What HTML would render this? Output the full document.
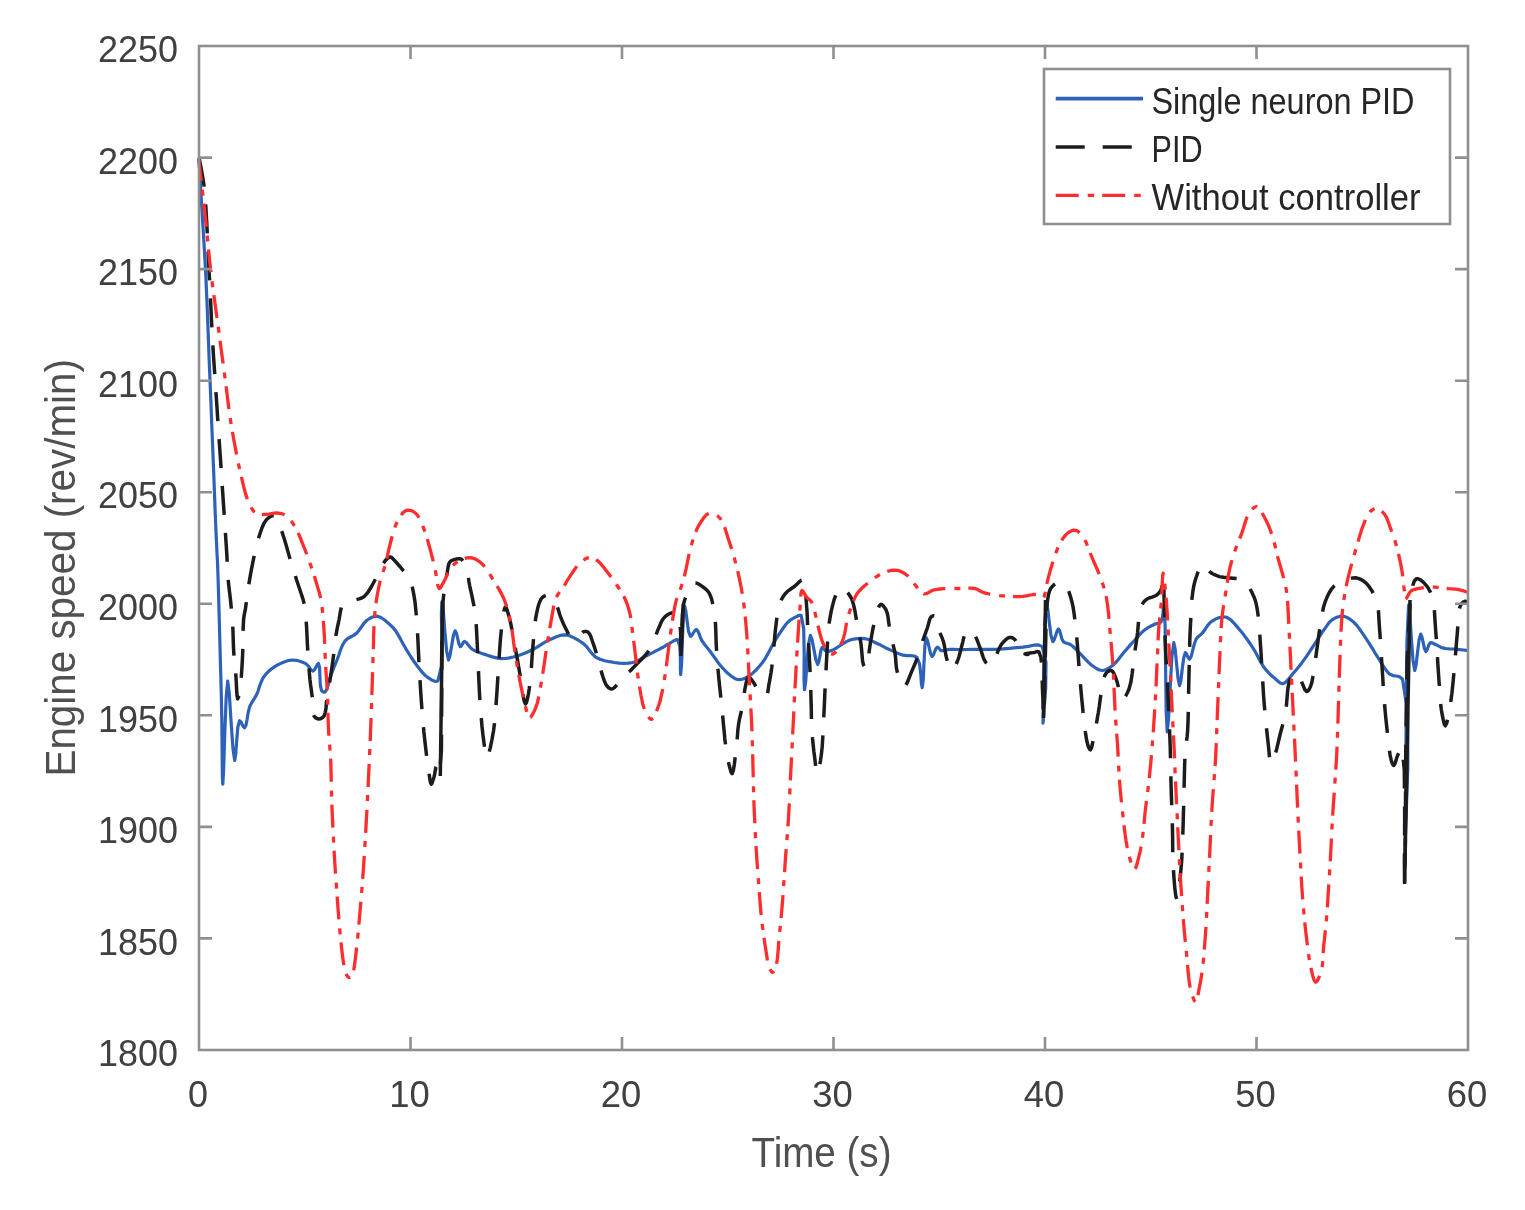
<!DOCTYPE html><html><head><meta charset="utf-8"><title>Engine speed</title><style>html,body{margin:0;padding:0;background:#fff;}svg{display:block;}text{font-family:"Liberation Sans",Arial,sans-serif;}</style></head><body>
<svg width="1525" height="1210" viewBox="0 0 1525 1210">
<rect x="0" y="0" width="1525" height="1210" fill="#fff"/>
<g>
<defs><clipPath id="c"><rect x="197" y="44" width="1273" height="1008"/></clipPath></defs>
<g clip-path="url(#c)" fill="none" stroke-linejoin="round">
<path d="M199.0 158.0L199.1 160.6 199.5 167.1 199.9 175.7 200.4 184.7 201.5 202.9 202.9 225.0 204.3 248.6 205.6 271.5 206.6 293.2 207.5 314.9 208.3 336.6 209.1 358.3 210.0 380.0 210.9 401.6 211.7 423.3 212.6 445.0 213.5 467.6 214.4 490.7 215.2 512.7 216.0 532.0 216.5 542.3 216.9 551.3 217.4 560.1 217.8 570.0 218.3 585.8 218.8 603.1 219.3 621.2 219.8 639.4 220.3 659.0 220.9 679.2 221.4 699.3 221.8 718.7 222.0 738.6 222.2 760.0 222.4 777.2 222.8 784.2 223.7 768.1 224.8 732.6 226.2 697.1 227.7 681.0 229.3 693.4 231.0 720.7 232.9 748.0 234.7 760.4 235.7 754.3 236.7 740.8 237.8 727.2 239.6 720.7 240.8 721.7 242.1 724.2 243.4 726.7 244.6 727.7 246.0 725.1 247.1 719.3 248.2 712.5 249.6 706.8 251.2 703.6 253.0 700.7 254.8 697.9 256.5 694.9 258.1 691.0 259.4 686.7 260.9 682.6 262.5 679.0 263.9 676.7 265.5 674.7 267.1 672.8 269.0 671.0 271.4 669.0 274.0 667.1 276.8 665.4 279.7 663.9 282.8 662.5 286.2 661.2 289.5 660.3 292.9 660.0 296.3 660.3 299.8 661.2 303.2 662.4 306.1 663.9 308.1 665.8 309.9 668.2 311.5 670.2 313.0 671.0 314.5 669.7 316.0 667.1 317.3 664.5 318.5 663.5 319.6 667.5 319.9 676.0 320.3 684.9 321.5 690.5 322.3 691.3 323.2 691.9 324.1 692.1 325.0 692.0 326.6 689.7 328.1 685.2 329.5 679.8 331.0 675.0 332.5 671.2 333.9 667.5 335.4 663.8 337.0 660.0 338.8 655.2 340.5 650.0 342.5 645.1 345.0 641.0 347.6 638.7 350.5 637.0 353.6 635.4 356.4 633.4 359.1 630.2 361.7 626.5 364.2 623.0 367.0 620.2 369.5 618.5 372.1 617.2 374.8 616.3 377.5 616.2 380.9 617.5 384.6 620.0 388.0 622.9 390.8 625.5 392.2 626.8 393.3 627.9 394.4 629.2 395.6 630.8 398.0 634.6 400.7 639.4 403.4 644.5 406.2 649.3 408.8 653.5 411.3 657.5 414.0 661.5 416.7 665.2 419.2 668.5 421.8 671.8 424.5 674.7 427.3 677.1 430.0 678.9 432.8 680.6 435.6 681.5 437.9 681.0 441.3 666.6 441.8 639.6 441.4 613.5 441.9 601.7 443.3 610.8 444.8 630.7 446.6 650.7 448.5 659.9 450.0 655.4 451.7 645.4 453.4 635.4 455.1 630.8 456.4 633.2 457.7 638.6 459.0 644.1 460.4 646.7 461.3 646.0 462.3 644.2 463.3 642.3 464.4 641.4 466.1 642.3 467.9 644.5 470.0 647.1 472.3 649.3 475.2 650.9 478.5 652.3 482.0 653.5 485.5 654.6 489.3 655.9 493.3 657.1 497.4 658.1 501.4 658.6 505.4 658.5 509.4 657.9 513.4 657.0 517.3 655.9 521.3 654.6 525.3 653.0 529.2 651.2 533.1 649.3 537.1 647.1 541.0 644.6 545.0 642.1 549.0 640.0 553.0 638.2 557.1 636.5 561.1 635.2 564.9 634.8 567.7 635.2 570.4 636.1 573.0 637.4 575.5 638.7 578.0 640.0 580.3 641.5 582.7 643.1 585.0 645.0 587.6 647.9 590.1 651.2 592.8 654.5 595.9 657.2 600.0 659.2 604.7 660.7 609.6 661.7 614.4 662.5 619.1 663.1 623.8 663.3 628.4 663.2 632.9 662.5 637.1 661.1 641.1 659.0 645.0 656.7 648.8 654.6 652.2 652.9 655.5 651.2 658.6 649.6 661.6 648.0 663.8 646.8 665.8 645.5 667.7 644.4 669.7 643.3 671.8 642.0 674.0 640.7 676.1 639.7 677.8 639.9 679.8 646.3 680.4 658.1 680.4 669.5 680.7 674.6 681.6 663.9 682.4 640.5 683.3 617.0 684.7 606.3 685.8 610.9 687.1 621.0 688.5 631.4 690.5 636.4 691.8 635.5 693.3 633.0 694.9 630.5 696.3 629.4 697.8 630.8 699.1 633.9 700.5 637.7 702.1 641.0 704.0 643.7 706.0 646.2 708.1 648.7 710.2 651.4 712.6 654.8 715.1 658.3 717.6 661.9 720.2 665.2 722.8 668.2 725.4 671.0 728.1 673.6 730.8 675.8 732.8 677.2 734.7 678.4 736.6 679.3 738.7 679.7 741.2 679.5 743.9 678.7 746.6 677.4 749.3 675.8 752.7 673.2 756.1 670.0 759.4 666.3 762.5 662.5 765.5 658.1 768.2 653.2 770.7 648.4 773.1 644.0 774.9 641.0 776.6 638.2 778.2 635.5 780.0 632.8 781.9 630.0 783.8 627.2 785.8 624.5 787.9 622.2 789.8 620.5 791.9 619.1 794.0 617.9 795.9 616.9 797.3 616.2 798.7 615.5 800.0 615.2 801.2 615.6 803.7 628.9 804.2 654.1 804.0 678.7 804.5 689.7 805.7 681.3 807.0 662.6 808.5 644.0 810.4 635.4 812.1 639.9 814.0 649.9 815.9 659.9 817.7 664.5 818.8 661.9 819.9 656.1 820.9 650.2 822.3 647.3 823.2 647.7 824.1 649.0 825.1 650.4 826.3 651.3 827.8 651.4 829.5 651.2 831.2 650.6 832.9 650.0 834.5 649.2 836.1 648.2 837.7 647.1 839.5 646.0 841.9 644.5 844.4 642.8 847.1 641.2 850.0 640.0 853.6 639.1 857.5 638.6 861.4 638.4 865.0 638.7 867.8 639.3 870.3 640.3 872.9 641.5 875.5 642.7 878.7 644.2 882.0 645.9 885.4 647.7 888.8 649.3 892.3 650.9 895.9 652.5 899.5 654.0 903.1 655.2 906.8 655.7 910.6 655.6 914.1 656.0 917.0 657.5 919.6 664.2 920.8 674.3 921.4 683.6 922.2 687.6 923.3 679.8 924.0 662.8 924.9 645.8 926.3 637.9 927.5 640.7 929.0 647.0 930.5 653.4 932.1 656.4 933.3 655.1 934.6 651.9 935.9 648.7 937.3 647.1 938.2 647.5 939.1 648.6 940.1 649.8 941.3 650.6 943.1 650.7 945.1 650.3 947.2 649.8 949.4 649.4 951.9 649.3 954.6 649.4 957.3 649.5 960.2 649.6 963.7 649.6 967.3 649.5 971.1 649.4 975.0 649.3 980.0 649.3 985.4 649.4 990.9 649.4 996.5 649.3 1003.0 648.9 1009.8 648.3 1016.5 647.7 1022.9 647.2 1028.3 646.4 1033.6 645.2 1038.4 644.9 1042.3 646.6 1046.0 662.1 1045.7 688.0 1043.9 712.4 1043.0 723.2 1043.4 704.6 1043.9 663.5 1044.9 622.5 1046.5 603.7 1047.8 609.5 1049.3 622.5 1051.0 635.6 1052.9 641.7 1054.2 639.8 1055.7 635.4 1057.1 631.0 1058.5 629.0 1059.6 630.6 1060.7 634.4 1061.8 638.7 1063.4 641.7 1064.9 642.7 1066.7 643.2 1068.5 643.7 1070.4 644.5 1073.0 646.5 1075.7 649.1 1078.4 651.9 1081.1 654.6 1083.7 657.3 1086.3 660.2 1089.0 662.9 1091.7 665.2 1094.3 667.0 1096.9 668.8 1099.6 670.0 1102.3 670.5 1105.0 670.0 1107.7 668.8 1110.4 667.1 1112.9 665.2 1115.7 662.6 1118.3 659.5 1120.8 656.2 1123.4 653.0 1126.0 650.0 1128.7 646.9 1131.3 643.9 1134.0 641.0 1136.6 638.1 1139.2 635.2 1141.8 632.4 1144.6 630.0 1147.2 628.2 1150.0 626.5 1152.7 625.2 1155.2 624.0 1156.8 623.5 1158.4 623.3 1159.8 622.9 1161.0 622.0 1162.4 618.1 1163.1 612.2 1163.4 606.9 1163.9 604.6 1165.1 624.5 1165.6 668.3 1166.2 712.0 1167.2 731.9 1168.6 718.0 1170.2 687.3 1171.9 656.6 1173.8 642.6 1175.2 649.3 1176.6 664.1 1178.1 678.9 1179.6 685.6 1180.9 680.5 1182.2 669.3 1183.7 658.0 1185.4 652.6 1186.4 653.6 1187.4 655.9 1188.5 658.2 1189.5 659.2 1191.1 656.6 1192.6 650.9 1194.2 644.3 1196.1 639.3 1197.6 637.3 1199.3 635.8 1201.0 634.4 1202.7 632.7 1204.5 630.3 1206.2 627.6 1208.0 625.0 1210.0 622.8 1212.2 621.1 1214.6 619.6 1217.0 618.4 1219.4 617.6 1221.4 617.2 1223.3 616.9 1225.3 617.0 1227.3 617.6 1230.5 619.7 1233.9 623.0 1237.2 626.9 1240.5 630.8 1244.0 635.1 1247.4 639.8 1250.7 644.5 1253.8 649.3 1256.5 654.0 1259.0 658.9 1261.6 663.6 1264.3 667.8 1266.9 670.9 1269.5 673.7 1272.3 676.2 1274.9 678.4 1276.9 680.2 1278.9 682.0 1280.9 683.3 1282.9 683.7 1285.5 682.4 1288.1 679.7 1290.8 676.3 1293.4 673.1 1296.1 670.0 1298.8 666.7 1301.4 663.4 1304.0 659.9 1306.7 656.1 1309.3 652.1 1312.0 648.0 1314.6 644.0 1317.3 639.9 1320.0 635.7 1322.7 631.7 1325.2 628.1 1326.8 625.8 1328.3 623.6 1329.9 621.7 1331.7 620.1 1334.1 618.6 1336.8 617.3 1339.6 616.4 1342.3 616.1 1345.0 616.6 1347.7 617.8 1350.3 619.4 1352.9 621.4 1356.3 624.8 1359.6 629.1 1362.9 633.9 1366.1 638.6 1369.5 643.8 1372.8 649.2 1376.1 654.7 1379.3 659.7 1381.9 663.8 1384.4 667.8 1387.0 671.4 1389.9 674.3 1393.0 675.6 1396.3 676.0 1399.6 676.8 1402.5 679.2 1407.7 712.2 1407.8 768.4 1405.9 821.4 1405.0 845.0 1405.6 807.5 1406.1 725.0 1406.9 642.5 1408.6 605.0 1409.9 615.2 1411.3 637.7 1413.0 660.2 1414.7 670.5 1416.1 664.9 1417.5 652.4 1419.1 639.9 1420.7 634.1 1421.9 636.8 1423.2 642.7 1424.5 648.7 1425.9 651.5 1426.9 650.3 1427.9 647.5 1429.0 644.5 1430.3 642.8 1431.5 642.7 1432.8 643.1 1434.1 643.8 1435.5 644.5 1437.2 645.3 1438.9 646.2 1440.7 647.2 1442.7 647.9 1445.7 648.5 1449.1 648.8 1452.6 649.0 1456.0 649.2 1459.6 649.6 1463.5 650.0 1466.6 650.4 1467.9 650.5" stroke="#2e62b8" stroke-width="3.2"/>
<path d="M199.0 158.0L199.6 160.6 200.9 167.0 202.5 175.7 203.9 184.7 205.6 203.1 206.9 225.6 208.0 249.3 209.1 271.5 210.0 289.7 210.9 307.4 211.7 324.5 212.6 341.0 213.4 354.5 214.3 367.5 215.1 380.2 216.0 393.0 216.9 406.0 217.7 419.0 218.6 432.0 219.5 445.0 220.4 458.0 221.3 471.0 222.1 484.0 223.0 497.0 223.9 510.4 224.8 524.0 225.7 537.2 226.5 549.3 227.0 557.6 227.3 565.5 227.7 572.8 228.2 579.8 228.7 585.1 229.3 590.0 229.9 594.9 230.5 600.0 231.1 606.2 231.7 612.6 232.2 619.0 232.7 625.5 233.0 632.0 233.2 638.5 233.4 645.0 233.7 651.3 234.1 656.8 234.6 662.2 235.2 667.6 235.7 673.1 236.2 680.6 236.6 689.1 237.1 696.0 237.7 698.9 238.4 697.3 239.2 693.2 239.9 688.0 240.6 683.0 241.3 676.7 241.8 669.8 242.2 662.6 242.6 655.2 242.9 646.1 243.0 636.4 243.2 627.2 243.6 619.5 244.0 616.2 244.5 613.4 245.1 610.7 245.6 607.6 246.3 602.6 247.0 597.1 247.8 591.4 248.6 585.8 249.5 580.4 250.4 575.0 251.4 569.6 252.5 564.0 253.8 557.6 255.2 550.9 256.7 544.4 258.5 538.2 260.2 533.0 262.0 527.8 264.0 523.2 266.4 519.7 268.3 517.9 270.4 516.5 272.5 515.6 274.4 515.7 276.7 518.0 278.7 522.3 280.5 527.7 282.3 532.9 284.4 539.2 286.4 546.0 288.3 552.9 290.2 559.4 291.8 564.7 293.4 569.7 295.0 574.8 296.6 580.0 298.7 586.2 300.9 592.7 303.0 599.1 304.5 605.0 305.2 608.9 305.6 612.4 305.8 615.9 306.1 620.0 306.6 627.4 307.0 635.7 307.4 644.4 307.9 652.7 308.4 659.8 308.9 666.8 309.4 673.6 310.0 680.0 310.6 685.0 311.3 689.8 311.9 694.4 312.5 699.0 312.7 703.7 312.7 708.5 313.0 712.8 314.0 716.0 315.0 717.3 316.3 718.2 317.7 718.8 319.0 719.0 320.3 718.8 321.6 718.2 322.9 717.3 324.0 716.0 325.3 712.6 326.0 708.0 326.4 702.9 327.0 698.0 327.7 693.6 328.5 689.2 329.2 684.7 330.0 680.0 330.9 674.0 331.9 667.6 332.8 661.2 333.6 655.0 334.2 649.8 334.8 644.7 335.3 639.7 336.0 635.0 336.7 631.1 337.4 627.4 338.2 623.7 339.0 620.0 339.7 615.8 340.4 611.4 341.4 607.4 343.1 604.3 345.3 602.7 348.0 601.8 350.9 601.2 353.7 600.4 356.4 599.6 359.1 598.9 361.7 598.0 364.3 596.4 367.9 592.3 371.4 586.7 374.6 580.7 377.5 575.2 379.5 571.2 381.4 567.3 383.1 563.8 385.0 561.0 386.3 559.5 387.7 558.2 389.0 557.3 390.3 557.0 391.5 557.4 392.6 558.4 393.7 559.6 395.0 561.0 397.3 563.5 399.9 566.5 402.5 569.7 404.8 572.6 406.3 574.5 407.6 576.1 408.9 577.9 410.0 580.0 411.3 583.5 412.4 587.5 413.3 591.9 414.1 596.4 415.0 602.0 415.6 608.0 416.2 614.1 416.7 620.2 417.1 626.1 417.5 632.0 417.8 638.0 418.1 644.0 418.4 650.4 418.7 656.8 419.0 663.5 419.4 670.5 420.0 680.0 420.6 690.2 421.3 700.5 422.0 710.2 422.6 717.8 423.3 725.0 423.9 732.0 424.7 739.3 425.6 747.5 426.6 755.9 427.7 764.0 428.7 771.0 429.3 775.3 429.9 779.6 430.6 782.9 431.3 784.2 431.9 783.5 432.6 781.6 433.3 779.3 434.0 777.0 434.7 773.9 435.3 770.3 435.9 767.3 436.6 766.0 437.3 767.1 438.1 769.5 438.8 772.0 439.5 773.0 441.4 750.7 441.7 699.7 441.9 642.7 443.0 602.0 443.9 592.6 445.0 584.8 446.1 578.3 447.2 572.6 447.7 569.4 448.2 566.5 448.8 563.9 449.8 562.0 450.9 561.0 452.2 560.3 453.6 559.8 455.1 559.4 456.7 559.0 458.5 558.8 460.2 558.8 461.7 559.4 463.4 561.5 464.8 564.7 466.0 568.4 467.0 572.0 467.8 575.3 468.5 578.6 469.0 582.0 469.7 585.8 471.0 591.7 472.4 598.2 473.8 605.1 475.0 612.3 476.0 621.5 476.6 631.3 477.1 641.5 477.6 652.0 478.2 664.9 478.8 678.5 479.4 692.0 480.2 704.9 481.1 715.7 482.0 726.5 483.1 736.3 484.2 744.6 484.8 749.0 485.4 753.3 486.1 756.5 486.9 757.8 488.4 755.0 490.2 748.1 492.0 739.4 493.5 731.0 494.7 721.5 495.6 711.2 496.3 700.9 497.0 691.0 497.5 682.8 498.0 675.0 498.4 667.1 499.0 659.0 499.7 649.0 500.5 638.4 501.5 628.4 502.5 620.0 503.1 615.6 503.8 611.5 504.6 608.3 505.4 607.0 506.3 608.0 507.3 610.6 508.3 614.1 509.3 617.6 510.7 623.3 512.0 629.9 513.3 637.0 514.6 644.0 515.9 651.4 517.3 658.9 518.6 666.5 519.9 674.0 521.3 682.9 522.7 692.7 524.1 700.7 525.5 704.0 526.5 702.6 527.4 698.9 528.4 694.0 529.2 689.0 530.4 679.2 531.4 667.3 532.2 655.0 533.1 644.0 533.7 636.8 534.2 630.1 534.9 623.7 535.8 617.6 536.8 612.3 538.0 607.1 539.4 602.5 541.1 599.0 542.2 597.6 543.4 596.6 544.7 595.9 546.0 595.5 547.7 595.6 549.6 596.3 551.4 597.3 553.0 598.5 554.3 600.0 555.3 601.8 556.1 603.9 557.0 606.0 558.0 608.8 559.0 611.9 559.9 615.0 561.0 618.0 562.2 620.9 563.4 623.7 564.7 626.5 566.0 629.0 567.0 631.0 567.9 632.9 568.9 634.6 570.0 636.0 570.9 636.9 571.9 637.6 573.0 638.2 574.0 638.5 575.0 638.5 576.0 638.4 577.0 638.0 578.0 637.5 579.3 636.3 580.5 634.7 581.7 633.1 583.0 632.0 584.2 631.6 585.5 631.4 586.8 631.5 588.0 632.0 589.5 633.8 590.8 636.5 591.9 639.8 593.0 643.0 594.3 646.7 595.6 650.7 596.8 654.9 598.0 659.0 599.3 663.6 600.5 668.3 601.7 672.9 603.0 677.0 603.9 679.6 604.8 682.1 605.8 684.2 607.0 686.0 608.0 687.1 609.1 688.1 610.3 688.8 611.5 689.0 612.9 688.6 614.3 687.6 615.7 686.3 617.0 685.0 618.3 683.4 619.4 681.6 620.6 679.8 622.0 678.0 623.9 676.2 625.9 674.4 628.1 672.7 630.0 671.0 631.5 669.6 632.8 668.1 634.2 666.7 635.6 665.2 637.5 663.3 639.5 661.4 641.5 659.3 643.5 657.2 645.6 654.8 647.6 652.3 649.6 649.6 651.4 646.7 653.3 642.7 654.9 638.1 656.5 633.6 658.1 629.4 659.5 626.2 660.8 623.1 662.2 620.3 663.9 617.9 665.5 616.3 667.2 615.0 669.0 613.9 670.8 613.2 672.3 612.8 673.9 612.6 675.3 612.7 676.6 613.2 677.9 615.1 678.8 617.9 679.4 621.4 680.0 625.0 680.6 631.7 680.7 640.0 680.8 647.0 681.0 650.0 681.4 644.2 681.7 630.8 682.3 615.5 683.6 604.0 684.5 600.5 685.6 597.5 686.8 595.0 688.2 592.4 689.7 589.6 691.4 586.7 693.2 584.3 695.1 583.1 697.0 583.2 699.0 584.2 701.1 585.6 703.0 587.0 704.8 588.4 706.6 589.8 708.2 591.6 709.6 593.8 711.5 598.6 712.9 604.6 714.0 611.2 714.9 617.6 715.5 624.2 715.8 630.9 716.0 637.6 716.2 644.0 716.5 649.4 716.8 654.6 717.2 659.8 717.6 665.2 718.2 671.6 718.8 678.2 719.5 684.9 720.2 691.6 720.9 698.2 721.6 704.8 722.2 711.5 722.9 718.1 723.5 724.9 724.2 731.8 724.8 738.5 725.5 744.6 726.1 748.9 726.7 752.9 727.3 756.7 728.1 760.4 729.0 764.5 730.1 768.8 731.1 772.3 732.1 773.7 733.2 771.1 734.3 764.8 735.2 757.0 736.1 749.8 736.8 743.2 737.4 736.4 737.9 729.7 738.7 723.4 739.6 718.5 740.7 714.0 741.7 709.5 742.7 704.9 743.4 700.0 744.1 695.0 744.7 690.2 745.5 686.0 746.1 683.1 746.8 680.3 747.6 678.0 748.5 677.0 749.4 677.3 750.4 678.3 751.5 679.6 752.5 681.0 754.0 683.2 755.5 685.9 757.0 688.7 758.5 691.0 759.6 692.6 760.7 694.1 761.9 695.3 763.0 696.0 763.9 696.1 764.8 696.0 765.7 695.6 766.5 695.0 767.5 693.1 768.1 690.4 768.5 687.2 769.0 684.0 769.7 680.3 770.4 676.4 771.1 672.3 771.7 668.0 772.3 662.5 772.9 656.7 773.5 650.7 774.0 645.0 774.5 639.9 774.9 634.9 775.4 629.9 776.0 625.0 776.6 620.1 777.2 615.1 777.9 610.4 779.0 606.0 780.2 602.7 781.5 599.5 783.1 596.6 785.0 594.0 787.2 591.7 789.8 589.7 792.5 587.8 795.0 586.0 797.1 584.0 799.2 581.9 801.2 580.3 802.8 580.0 804.5 583.3 805.5 589.9 806.0 597.8 806.5 605.0 807.0 611.0 807.3 616.9 807.5 622.9 807.8 628.8 808.1 634.7 808.5 640.6 808.8 646.6 809.1 652.6 809.4 659.2 809.8 665.9 810.1 672.6 810.4 679.1 810.6 684.8 810.8 690.3 810.9 695.8 811.1 701.6 811.3 708.8 811.4 716.3 811.6 723.9 812.0 731.3 812.5 738.2 813.2 745.1 813.9 751.7 814.7 757.8 815.3 762.8 815.9 768.0 816.6 772.0 817.3 773.7 818.3 771.8 819.3 767.1 820.4 761.1 821.3 755.1 822.2 746.6 822.8 737.0 823.3 727.2 823.7 718.0 824.1 710.7 824.4 703.7 824.7 696.8 825.0 690.0 825.3 683.6 825.6 677.3 826.0 671.1 826.3 665.0 826.6 659.2 826.9 653.5 827.2 647.8 827.6 642.0 828.1 635.5 828.6 628.9 829.3 622.3 830.3 616.0 831.4 610.3 832.8 604.6 834.2 599.4 835.8 595.0 836.8 592.7 837.7 590.6 838.8 588.9 840.0 588.0 841.2 587.9 842.4 588.4 843.7 589.1 845.0 590.0 846.8 591.6 848.5 593.7 850.2 596.2 851.7 599.0 853.4 604.1 854.8 610.2 855.9 616.7 857.0 622.9 858.1 628.3 859.1 633.5 860.1 638.7 861.0 644.0 861.6 649.8 862.1 655.9 862.6 661.3 863.6 665.2 864.2 666.3 864.9 667.3 865.6 667.9 866.3 668.0 867.5 665.1 868.4 658.8 869.2 651.1 870.2 644.0 871.4 637.3 872.6 630.3 874.0 623.6 875.5 617.6 876.7 613.4 877.9 609.1 879.3 605.8 880.8 604.3 882.1 604.7 883.5 606.1 884.9 608.0 886.1 610.0 887.3 613.4 888.1 617.5 888.6 621.9 889.3 626.0 890.0 629.6 890.6 633.1 891.3 636.6 892.0 640.0 892.7 643.2 893.5 646.4 894.3 649.6 895.0 653.0 895.6 657.7 895.9 662.8 896.4 667.9 897.4 672.6 898.8 677.0 900.6 681.5 902.5 685.1 904.3 686.5 906.0 685.0 907.8 681.4 909.5 676.9 911.2 672.6 913.0 668.4 914.9 664.0 916.6 659.5 918.2 655.2 919.5 651.3 920.7 647.5 921.8 643.7 923.0 640.0 924.1 636.8 925.3 633.6 926.4 630.5 927.5 627.5 928.3 624.6 929.1 621.5 929.9 618.8 931.0 617.0 931.8 616.4 932.7 616.0 933.6 615.8 934.4 616.0 935.5 617.7 936.3 620.8 937.1 624.5 938.0 628.0 939.4 631.5 940.9 635.1 942.4 638.7 943.7 642.5 944.6 646.8 945.3 651.4 946.0 655.9 947.0 659.9 948.1 663.1 949.4 666.4 950.8 669.0 952.2 670.0 953.5 669.1 954.9 666.8 956.3 663.9 957.5 661.0 958.8 657.3 959.9 653.2 961.0 648.9 962.0 645.0 962.8 641.8 963.5 638.6 964.3 635.7 965.5 633.4 966.7 632.1 968.1 630.9 969.5 630.2 970.8 630.0 972.0 630.7 973.2 632.2 974.2 634.1 975.3 636.1 976.7 639.0 978.0 642.4 979.3 645.9 980.6 649.3 981.8 652.9 983.0 656.6 984.3 660.0 985.9 662.5 987.2 663.7 988.5 664.7 989.9 665.2 991.2 665.2 992.7 663.7 994.0 661.0 995.2 657.6 996.5 654.6 997.7 651.9 998.9 649.1 1000.2 646.4 1001.7 644.0 1003.5 641.9 1005.6 639.8 1007.7 638.2 1009.7 637.4 1010.9 637.4 1012.0 637.6 1013.1 638.2 1014.2 638.9 1015.9 640.8 1017.6 643.5 1019.4 646.3 1021.2 648.7 1023.3 650.5 1025.7 652.1 1027.6 653.5 1028.3 654.3 1027.7 654.4 1026.6 654.4 1025.5 654.2 1025.0 654.0 1026.0 653.7 1028.5 653.3 1031.4 652.8 1033.9 652.5 1035.3 652.2 1036.7 651.7 1037.9 651.6 1039.0 652.0 1041.0 657.6 1041.9 667.8 1042.2 679.7 1042.5 690.0 1042.9 698.1 1043.1 706.6 1043.3 713.3 1043.5 716.0 1044.0 708.5 1044.5 690.6 1045.0 668.8 1045.5 650.0 1045.8 636.9 1046.0 623.9 1046.4 612.0 1047.3 602.3 1047.9 598.0 1048.6 594.3 1049.5 591.1 1050.8 588.3 1052.3 586.4 1054.0 584.7 1055.9 583.4 1057.8 582.7 1059.7 582.7 1061.8 583.2 1063.7 584.1 1065.5 585.5 1067.6 588.4 1069.2 592.4 1070.6 597.0 1071.9 601.7 1073.2 607.7 1074.2 614.3 1075.0 621.2 1075.8 628.1 1076.6 635.8 1077.3 643.8 1077.9 651.9 1078.5 659.9 1079.1 667.9 1079.8 675.9 1080.4 683.9 1081.1 691.6 1081.7 698.4 1082.4 705.0 1083.0 711.5 1083.8 718.1 1084.6 725.2 1085.5 732.7 1086.5 739.5 1087.7 744.6 1088.3 746.5 1089.0 748.2 1089.7 749.4 1090.4 749.8 1091.4 748.1 1092.4 744.0 1093.4 738.8 1094.3 734.0 1095.3 729.0 1096.4 723.8 1097.3 718.3 1098.3 712.8 1099.3 706.2 1100.2 699.2 1101.2 692.3 1102.3 686.3 1103.1 682.4 1103.9 678.7 1104.8 675.5 1106.2 673.1 1107.4 671.9 1108.8 671.0 1110.2 670.5 1111.5 670.5 1113.0 671.9 1114.4 674.5 1115.6 677.7 1116.8 681.0 1118.2 686.1 1119.3 692.1 1120.6 697.3 1122.1 699.6 1123.7 698.7 1125.6 696.2 1127.4 692.7 1129.0 689.0 1130.9 682.0 1132.2 673.4 1133.2 664.3 1134.2 656.0 1135.1 649.9 1136.0 644.1 1136.8 638.5 1137.5 633.0 1138.0 628.0 1138.4 623.0 1138.8 618.3 1139.5 614.0 1140.2 610.9 1140.9 607.9 1141.8 605.3 1143.0 603.0 1144.1 601.6 1145.3 600.4 1146.6 599.4 1148.0 598.5 1149.9 597.7 1152.0 597.1 1154.1 596.4 1156.0 595.5 1157.5 594.4 1158.8 593.1 1160.0 591.7 1161.0 590.0 1161.9 586.8 1162.3 582.8 1162.7 579.4 1163.0 578.0 1163.7 584.8 1164.2 601.1 1164.6 621.0 1165.1 638.7 1165.7 652.2 1166.4 665.3 1167.1 678.4 1167.8 691.6 1168.5 705.3 1169.1 719.2 1169.7 733.0 1170.2 746.5 1170.5 758.8 1170.8 770.9 1171.0 782.7 1171.3 793.8 1171.6 802.2 1171.9 810.0 1172.1 817.8 1172.4 826.0 1172.6 836.5 1172.7 847.6 1172.9 858.6 1173.4 869.0 1174.0 878.3 1174.8 888.1 1175.8 895.9 1176.7 899.1 1177.8 895.9 1178.9 888.2 1180.1 878.3 1181.0 869.0 1181.8 858.8 1182.3 848.0 1182.7 836.9 1183.1 826.0 1183.4 815.1 1183.7 804.1 1183.9 793.3 1184.2 783.0 1184.4 774.4 1184.6 766.1 1184.9 758.2 1185.3 750.8 1185.8 745.8 1186.4 741.3 1187.1 736.7 1187.6 731.3 1188.1 719.9 1188.4 706.4 1188.6 692.1 1188.9 678.4 1189.2 665.6 1189.5 652.7 1189.8 640.1 1190.3 628.1 1190.8 618.1 1191.3 608.3 1191.9 599.1 1192.9 591.1 1193.7 586.5 1194.6 582.5 1195.7 578.7 1196.9 575.2 1198.0 571.9 1199.3 568.6 1200.6 566.0 1202.2 564.7 1203.9 565.4 1205.8 567.5 1207.9 570.0 1210.0 572.0 1212.2 573.4 1214.5 574.7 1216.9 575.7 1219.4 576.6 1221.9 577.1 1224.6 577.4 1227.2 577.6 1230.0 577.9 1233.3 578.2 1236.8 578.5 1240.1 579.1 1243.2 580.5 1246.4 583.5 1249.3 587.5 1251.7 592.0 1253.8 596.4 1255.2 600.2 1256.2 603.9 1257.0 607.9 1257.7 612.3 1258.6 619.6 1259.3 627.9 1259.9 636.3 1260.4 644.0 1260.8 649.4 1261.1 654.5 1261.4 659.5 1261.7 665.2 1262.3 674.3 1262.9 684.3 1263.5 694.7 1264.3 704.9 1265.2 715.2 1266.2 725.7 1267.3 735.7 1268.3 744.6 1268.9 750.6 1269.4 756.5 1270.1 761.1 1271.0 763.1 1271.9 762.4 1272.9 760.4 1273.9 757.8 1274.9 755.1 1276.3 750.6 1277.6 745.2 1278.9 739.5 1280.2 734.0 1281.6 728.8 1283.0 723.7 1284.3 718.4 1285.5 712.8 1286.5 704.8 1287.2 695.9 1288.0 687.5 1289.5 681.0 1290.7 678.2 1292.0 675.8 1293.4 674.0 1294.8 673.1 1295.8 673.2 1296.7 673.8 1297.7 674.7 1298.7 675.8 1300.7 679.5 1302.8 684.7 1304.8 689.5 1306.7 691.6 1307.8 691.2 1308.8 689.9 1309.7 688.2 1310.6 686.3 1311.9 682.2 1312.8 677.1 1313.7 671.2 1314.6 665.2 1315.9 656.5 1317.2 646.9 1318.5 637.2 1319.9 628.1 1321.0 621.0 1322.1 614.1 1323.4 607.6 1325.2 601.7 1327.1 597.1 1329.2 592.7 1331.7 588.8 1334.4 585.7 1336.8 583.8 1339.5 582.5 1342.3 581.4 1345.0 580.4 1347.6 579.4 1350.2 578.5 1352.9 577.9 1355.5 577.8 1358.2 578.4 1361.0 579.5 1363.6 581.1 1366.1 583.1 1369.2 586.7 1372.2 591.3 1374.7 596.4 1376.7 601.6 1378.0 607.1 1378.6 612.8 1378.9 618.9 1379.3 625.4 1380.0 634.6 1380.6 644.6 1381.3 654.9 1381.9 665.0 1382.6 675.1 1383.2 685.4 1383.9 695.3 1384.6 704.7 1385.2 711.7 1385.8 718.2 1386.5 724.5 1387.2 731.1 1388.1 738.8 1389.0 747.1 1390.0 754.6 1391.2 760.2 1391.8 762.1 1392.5 763.8 1393.1 765.1 1393.8 765.5 1394.7 764.3 1395.7 761.4 1396.7 757.9 1397.8 755.0 1398.8 752.8 1399.9 750.4 1401.0 748.6 1402.0 748.0 1404.3 769.8 1404.7 816.5 1404.4 862.9 1404.6 884.0 1405.3 845.4 1405.7 757.4 1407.1 661.8 1410.3 600.3 1411.5 592.3 1412.7 585.7 1414.3 581.0 1416.4 578.7 1418.2 578.7 1420.2 579.7 1422.3 581.3 1424.2 583.1 1426.4 585.6 1428.5 588.6 1430.4 592.1 1432.0 596.0 1433.6 602.7 1434.4 610.6 1434.9 619.1 1435.5 628.0 1436.4 640.0 1437.2 653.2 1438.0 666.3 1438.8 678.3 1439.4 687.0 1439.9 695.3 1440.5 703.0 1441.4 710.0 1442.3 715.1 1443.3 720.2 1444.3 724.2 1445.4 725.8 1446.7 723.3 1448.1 717.2 1449.5 709.4 1450.7 702.0 1451.9 693.3 1452.9 683.8 1453.8 674.2 1454.6 665.0 1455.3 656.8 1456.0 648.8 1456.6 641.0 1457.3 633.3 1457.8 626.0 1458.1 618.6 1458.7 612.0 1459.9 606.9 1460.7 605.1 1461.7 603.5 1462.8 602.4 1463.9 601.6 1465.0 601.3 1466.3 601.4 1467.4 601.5 1467.9 601.6" stroke="#1c1c1c" stroke-width="3.5" stroke-dasharray="29 18"/>
<path d="M440.3 776.0L442.6 602.0" stroke="#1c1c1c" stroke-width="3.5"/>
<path d="M680.9 656.0L683.4 604.0" stroke="#1c1c1c" stroke-width="3.5"/>
<path d="M1043.5 718.0L1045.5 600.0" stroke="#1c1c1c" stroke-width="3.5"/>
<path d="M1404.6 884.0L1410.0 600.0" stroke="#1c1c1c" stroke-width="3.5"/>
<path d="M198.5 158.0L199.3 164.8 201.3 181.3 203.6 201.5 205.6 219.4 206.9 232.7 208.2 245.7 209.4 258.6 210.8 271.5 212.4 284.5 214.2 297.6 216.0 310.6 217.8 323.6 219.5 336.6 221.2 349.6 223.0 362.7 224.7 375.7 226.4 388.7 228.0 401.8 229.7 414.8 231.7 427.8 234.1 441.3 236.7 455.2 239.4 468.4 242.1 479.9 243.7 486.6 245.3 492.7 247.0 498.2 249.0 503.0 250.6 506.2 252.2 509.2 254.0 511.7 256.2 513.5 258.5 514.3 261.1 514.6 263.8 514.5 266.4 514.4 269.1 514.1 271.7 513.6 274.4 513.1 277.0 513.0 279.4 513.3 281.8 513.7 284.1 514.5 286.3 515.7 288.8 517.9 291.2 520.8 293.4 524.1 295.5 527.6 297.7 531.8 299.7 536.4 301.6 541.2 303.5 546.0 305.6 551.2 307.6 556.7 309.6 562.1 311.4 567.3 312.9 571.9 314.4 576.3 315.7 580.7 317.0 585.0 318.1 588.7 319.2 592.2 320.1 595.9 321.0 600.0 322.0 606.7 322.8 614.2 323.4 622.1 324.0 630.0 324.5 638.2 324.8 646.5 325.1 654.9 325.5 663.0 325.9 670.2 326.4 677.1 326.9 684.2 327.3 691.6 327.7 701.2 327.9 711.4 328.2 721.7 328.6 731.3 329.1 738.7 329.7 745.6 330.2 752.6 330.7 760.0 331.0 769.4 331.2 779.3 331.4 789.5 331.7 799.7 332.1 810.4 332.6 821.3 333.1 832.3 333.7 843.3 334.3 854.6 335.0 866.0 335.8 877.4 336.6 889.0 337.5 901.6 338.5 914.5 339.5 927.1 340.6 938.6 341.5 947.0 342.4 955.1 343.4 962.4 344.6 968.3 345.2 970.9 345.9 973.1 346.6 975.0 347.5 976.3 348.1 976.9 348.7 977.3 349.4 977.5 350.0 977.5 350.7 977.2 351.3 976.5 351.9 975.5 352.5 974.3 353.8 969.7 354.8 963.1 355.7 955.7 356.5 948.5 357.3 941.4 358.0 934.2 358.7 926.7 359.4 918.7 360.4 907.2 361.4 894.7 362.5 881.8 363.4 869.1 364.2 856.6 365.0 844.0 365.7 831.5 366.4 819.5 367.0 809.0 367.5 798.8 368.0 789.0 368.4 779.8 368.7 773.3 369.0 767.3 369.3 761.4 369.6 755.0 369.9 746.9 370.3 738.5 370.6 729.6 371.0 720.0 371.5 706.0 372.0 690.6 372.5 674.9 373.0 660.0 373.4 647.5 373.6 635.2 374.1 623.4 374.9 612.3 375.9 603.6 377.2 595.2 378.7 587.4 380.2 580.5 381.3 576.5 382.6 573.1 383.8 569.7 385.0 566.0 386.3 560.7 387.6 555.0 388.9 549.2 390.3 543.5 391.7 538.0 393.2 532.4 394.9 527.1 396.9 522.3 398.9 518.6 401.2 515.0 403.6 512.1 406.2 510.4 408.5 510.1 410.9 510.6 413.3 511.6 415.4 513.0 417.8 515.7 419.8 519.3 421.7 523.4 423.4 527.6 425.3 532.6 427.0 537.9 428.5 543.4 430.0 548.8 431.4 554.1 432.8 559.5 434.1 564.8 435.3 570.0 436.2 575.5 437.1 581.5 438.0 586.3 439.2 588.5 440.4 587.8 441.7 585.7 443.1 583.1 444.5 580.5 446.0 577.3 447.5 573.8 449.1 570.3 451.1 567.3 453.4 564.9 456.1 562.7 458.9 560.8 461.7 559.4 464.3 558.5 467.0 557.9 469.7 557.7 472.3 558.0 475.1 558.9 477.8 560.5 480.4 562.4 482.9 564.7 485.8 568.0 488.4 572.0 491.0 576.2 493.5 580.5 496.3 584.9 499.1 589.4 501.7 594.1 504.0 599.0 506.1 604.7 507.8 610.6 509.3 616.7 510.7 622.9 511.9 629.3 512.8 635.8 513.6 642.5 514.6 649.3 515.8 657.1 517.1 665.3 518.5 673.3 519.9 681.0 521.2 687.4 522.5 693.6 523.9 699.5 525.2 704.9 526.1 709.1 527.0 713.3 528.0 716.6 529.2 718.1 530.7 717.2 532.5 714.5 534.3 711.1 535.8 707.5 537.5 702.4 538.8 696.5 539.9 690.2 541.1 683.7 542.5 675.5 543.8 666.8 545.1 658.0 546.4 649.3 547.7 641.1 549.0 632.9 550.4 624.9 551.7 617.6 552.6 612.3 553.5 607.2 554.5 602.5 555.9 598.2 557.6 594.9 559.7 592.0 561.8 589.1 563.8 586.3 565.5 583.6 567.0 581.0 568.6 578.4 570.4 575.7 572.6 572.4 574.9 569.0 577.4 565.7 580.0 563.0 582.5 561.0 585.1 559.1 587.8 557.8 590.3 557.2 592.4 557.5 594.4 558.5 596.3 559.8 598.2 561.2 600.2 563.1 602.1 565.3 604.1 567.7 606.1 570.4 609.4 574.7 612.9 579.6 616.4 584.5 619.4 589.0 621.1 591.7 622.6 594.3 624.0 596.8 625.3 599.5 626.7 602.9 627.9 606.4 629.0 610.2 630.0 614.0 630.8 618.4 631.5 622.9 632.0 627.7 632.6 632.6 633.4 638.9 634.3 645.7 635.1 652.5 635.9 659.0 636.5 664.4 637.1 669.5 637.7 674.7 638.5 680.2 639.7 687.8 641.1 696.0 642.7 703.9 644.8 710.2 646.3 713.4 648.0 716.4 649.7 718.6 651.4 719.4 653.3 717.9 655.2 714.3 657.0 709.9 658.5 706.0 659.5 703.1 660.3 700.3 660.9 697.4 661.6 694.3 662.5 690.1 663.3 685.6 664.2 680.9 665.0 675.7 666.2 667.5 667.3 658.3 668.5 649.1 669.5 641.0 670.1 636.4 670.7 632.3 671.3 628.3 672.0 624.0 672.8 618.5 673.7 612.7 674.7 607.1 675.8 602.0 676.8 598.8 677.9 595.8 679.0 593.0 680.1 590.0 681.3 586.5 682.4 582.9 683.6 579.1 684.7 575.0 686.2 568.3 687.7 560.8 689.3 553.2 691.1 546.1 692.8 540.4 694.6 534.8 696.6 529.7 699.0 525.0 701.4 521.2 704.0 517.4 706.7 514.5 709.6 513.0 712.2 513.1 715.1 514.3 717.8 516.1 720.2 518.4 722.7 522.3 724.7 527.2 726.4 532.7 728.1 538.2 730.2 544.5 732.3 551.0 734.3 557.8 736.1 564.7 738.0 572.3 739.7 580.2 741.3 588.2 742.7 596.4 744.0 605.3 745.0 614.4 745.9 623.7 746.7 633.4 747.5 644.8 748.1 656.7 748.7 668.9 749.3 681.0 750.0 693.3 750.7 705.7 751.4 718.3 752.0 731.3 752.5 747.1 752.9 763.8 753.3 780.3 753.7 795.7 754.1 807.2 754.6 818.1 755.0 828.7 755.6 839.4 756.3 850.4 757.0 861.5 757.8 872.4 758.6 883.0 759.3 892.3 760.0 901.3 760.7 910.1 761.6 918.7 762.5 926.5 763.5 934.2 764.5 941.6 765.6 948.5 766.5 954.1 767.3 959.6 768.3 964.6 769.5 968.3 770.2 969.7 771.0 971.0 771.8 971.9 772.5 972.3 773.0 972.2 773.5 971.8 774.0 971.2 774.5 970.5 775.1 969.4 775.6 968.0 776.1 966.4 776.5 964.4 777.4 958.6 778.1 951.0 778.7 942.6 779.4 934.6 780.2 926.9 780.9 919.1 781.7 911.2 782.4 902.9 783.2 892.4 783.9 881.4 784.7 870.1 785.4 859.2 786.2 849.1 787.0 839.2 787.7 829.4 788.4 819.5 789.0 809.5 789.5 799.5 789.9 789.6 790.4 779.8 790.8 771.0 791.3 762.5 791.7 753.9 792.2 744.6 792.8 732.0 793.5 718.6 794.1 704.9 794.8 691.6 795.5 679.4 796.1 667.3 796.8 655.4 797.5 644.0 798.1 634.1 798.8 624.3 799.4 615.1 800.1 607.0 800.4 601.7 800.7 596.4 801.1 592.3 802.0 590.5 802.9 591.1 804.0 592.9 805.2 595.1 806.5 597.0 807.8 598.3 809.2 599.5 810.6 600.7 811.8 602.3 813.1 605.1 814.0 608.4 814.8 612.0 815.7 615.6 816.7 619.8 817.7 624.3 818.7 628.7 819.7 632.8 820.6 636.0 821.5 639.1 822.5 642.0 823.7 644.7 824.9 647.0 826.2 649.2 827.6 651.2 829.0 652.6 830.0 653.3 830.9 653.8 831.9 654.0 832.9 654.0 834.2 653.3 835.6 652.0 836.9 650.4 838.2 648.7 839.7 646.5 841.1 643.9 842.3 641.1 843.5 638.1 844.7 633.4 845.7 628.0 846.5 622.7 847.5 618.2 848.2 615.8 848.8 613.8 849.6 611.8 850.4 609.6 851.7 605.9 853.2 601.7 854.9 597.5 857.0 593.8 859.4 590.8 862.0 588.1 864.9 585.5 868.0 583.0 871.7 580.1 875.8 577.1 879.9 574.5 884.0 572.5 887.4 571.3 890.9 570.5 894.3 570.2 897.5 570.4 900.3 571.2 903.0 572.5 905.6 574.2 908.0 576.0 910.2 578.2 912.1 580.8 914.0 583.5 916.0 586.0 917.9 588.4 919.8 590.8 921.8 592.8 924.0 593.9 926.2 593.7 928.6 592.5 931.1 591.1 933.7 590.0 936.9 589.4 940.2 589.0 943.6 588.7 947.0 588.5 950.3 588.4 953.6 588.4 956.8 588.5 960.2 588.5 964.0 588.4 967.9 588.2 971.6 588.1 975.0 588.5 977.2 589.3 979.1 590.3 981.1 591.5 983.2 592.4 986.3 593.3 989.6 594.0 993.1 594.6 996.5 595.1 999.8 595.6 1003.1 595.9 1006.4 596.2 1009.7 596.4 1013.0 596.5 1016.3 596.6 1019.6 596.6 1022.9 596.4 1026.3 595.9 1029.8 595.1 1033.1 594.5 1036.1 594.5 1038.1 595.3 1039.9 596.7 1041.6 597.8 1043.0 598.0 1044.4 596.1 1045.2 592.5 1045.9 588.2 1046.7 584.0 1047.9 579.4 1049.2 574.6 1050.5 569.6 1052.0 564.7 1053.7 559.3 1055.6 553.6 1057.7 548.2 1059.9 543.5 1061.7 540.3 1063.7 537.4 1065.7 534.9 1067.9 532.9 1069.8 531.7 1071.8 530.7 1073.9 530.2 1075.8 530.3 1077.9 531.3 1080.0 533.2 1082.0 535.6 1083.8 538.2 1086.0 542.2 1088.0 546.9 1089.8 551.9 1091.7 556.7 1093.7 561.3 1095.7 565.8 1097.7 570.5 1099.6 575.2 1101.4 580.2 1103.2 585.3 1104.8 590.6 1106.2 596.4 1107.6 605.0 1108.6 614.4 1109.4 624.1 1110.2 633.4 1111.0 641.6 1111.7 649.6 1112.3 657.5 1112.9 665.2 1113.3 672.0 1113.6 678.5 1113.9 685.1 1114.2 691.6 1114.5 698.2 1114.8 704.9 1115.1 711.5 1115.5 718.1 1116.0 724.5 1116.5 730.9 1117.0 737.4 1117.5 744.3 1118.0 753.5 1118.5 763.4 1119.1 773.4 1119.7 783.0 1120.4 791.4 1121.2 799.6 1122.0 807.6 1122.9 815.3 1123.6 822.0 1124.4 828.6 1125.2 835.0 1126.1 841.1 1127.0 846.3 1128.0 851.4 1129.1 856.2 1130.4 860.4 1131.4 863.2 1132.5 866.1 1133.6 868.2 1134.7 869.0 1135.9 867.6 1137.0 864.3 1138.0 860.1 1139.0 856.1 1140.0 852.1 1140.8 848.0 1141.6 843.6 1142.3 838.9 1143.2 831.9 1144.0 824.2 1144.7 816.4 1145.5 808.8 1146.3 802.2 1147.1 795.6 1148.0 789.2 1148.7 783.0 1149.3 777.7 1149.8 772.7 1150.3 767.5 1150.9 761.5 1151.9 749.9 1152.9 736.5 1153.9 722.4 1154.8 708.8 1155.5 696.1 1156.2 683.3 1156.7 670.9 1157.3 659.2 1157.7 650.3 1158.0 641.9 1158.4 633.9 1158.9 626.1 1159.5 619.7 1160.1 613.6 1160.8 607.5 1161.4 601.3 1161.9 593.1 1162.2 583.9 1162.6 576.3 1163.1 573.2 1163.8 576.1 1164.7 583.4 1165.6 592.6 1166.4 601.3 1167.1 611.2 1167.7 621.7 1168.3 632.4 1168.8 642.6 1169.3 651.1 1169.7 659.4 1170.1 667.5 1170.5 675.7 1170.9 684.0 1171.3 692.3 1171.7 700.5 1172.1 708.8 1172.5 717.0 1172.9 725.1 1173.4 733.3 1173.8 741.8 1174.3 751.8 1174.7 762.1 1175.1 772.5 1175.6 783.0 1176.1 793.7 1176.6 804.4 1177.2 815.2 1177.7 826.0 1178.2 836.9 1178.8 847.9 1179.3 858.7 1179.9 869.0 1180.4 877.4 1180.9 885.6 1181.5 893.5 1182.0 901.3 1182.5 908.6 1183.1 915.8 1183.6 922.8 1184.2 929.8 1184.8 936.4 1185.4 942.9 1186.1 949.3 1186.7 955.6 1187.2 961.3 1187.7 967.0 1188.2 972.5 1188.7 977.4 1189.1 980.6 1189.5 983.6 1190.0 986.4 1190.7 989.3 1191.8 993.1 1193.0 997.4 1194.4 1000.8 1195.6 1002.2 1196.7 1000.5 1197.8 996.3 1198.7 991.1 1199.6 986.3 1200.5 981.9 1201.2 977.4 1201.9 972.7 1202.6 967.5 1203.5 959.6 1204.2 951.0 1204.9 941.9 1205.6 932.7 1206.2 922.4 1206.8 911.9 1207.3 901.2 1207.8 890.5 1208.4 879.8 1208.9 869.0 1209.5 858.3 1210.0 847.5 1210.5 836.7 1211.0 826.0 1211.6 815.2 1212.2 804.5 1213.0 793.6 1213.8 782.5 1214.7 771.7 1215.4 761.5 1215.8 753.9 1216.1 746.8 1216.4 739.5 1216.7 731.3 1217.3 716.3 1218.0 699.2 1218.7 681.6 1219.4 665.2 1220.0 652.4 1220.5 640.0 1221.1 628.3 1222.0 617.6 1222.9 610.4 1223.9 603.8 1224.9 597.4 1226.0 591.1 1226.9 585.0 1227.8 579.0 1228.8 573.1 1230.0 567.3 1231.5 561.8 1233.1 556.3 1234.9 551.0 1236.6 546.1 1237.9 542.6 1239.2 539.4 1240.6 536.3 1241.9 532.9 1243.4 528.3 1244.9 523.3 1246.5 518.5 1248.5 514.4 1250.3 511.7 1252.3 509.1 1254.4 507.2 1256.4 506.5 1258.5 507.6 1260.5 510.3 1262.4 513.6 1264.3 517.0 1266.5 521.2 1268.6 525.8 1270.5 530.7 1272.3 535.6 1273.8 540.7 1275.1 546.0 1276.3 551.3 1277.6 556.7 1279.3 562.7 1281.1 568.9 1282.8 575.0 1284.2 580.5 1285.0 583.9 1285.7 586.9 1286.3 590.0 1286.8 593.8 1287.7 603.1 1288.3 614.4 1288.9 626.6 1289.5 638.7 1290.2 651.6 1290.8 664.9 1291.5 678.3 1292.1 691.6 1292.8 704.7 1293.4 717.8 1294.1 731.0 1294.8 744.6 1295.5 760.8 1296.3 777.7 1297.0 794.3 1297.7 809.6 1298.2 820.1 1298.7 829.8 1299.2 839.3 1299.7 849.3 1300.4 861.4 1301.1 874.1 1301.8 886.8 1302.7 898.9 1303.6 909.3 1304.5 919.5 1305.5 929.3 1306.6 938.6 1307.5 946.1 1308.4 953.3 1309.4 960.1 1310.6 966.3 1311.7 971.3 1312.9 976.5 1314.2 980.5 1315.6 982.2 1317.1 981.1 1318.7 978.1 1320.3 974.2 1321.5 970.3 1322.4 965.4 1322.9 960.1 1323.1 954.4 1323.5 948.5 1324.2 941.4 1325.0 933.9 1325.8 926.3 1326.5 918.7 1327.1 911.3 1327.6 903.9 1328.0 896.4 1328.5 889.0 1329.0 881.7 1329.5 874.4 1329.9 867.0 1330.4 859.2 1330.9 849.5 1331.4 839.3 1331.9 829.2 1332.4 819.5 1332.9 811.8 1333.4 804.4 1333.9 797.1 1334.4 789.8 1334.9 782.5 1335.4 775.2 1335.9 767.8 1336.4 760.0 1336.9 750.6 1337.3 740.8 1337.6 730.6 1338.0 720.0 1338.4 706.8 1338.8 693.0 1339.2 678.9 1339.7 665.0 1340.2 651.3 1340.7 637.4 1341.4 624.1 1342.3 612.2 1343.1 604.9 1344.1 598.2 1345.1 591.9 1346.3 585.7 1347.5 580.2 1348.8 574.9 1350.1 569.7 1351.5 564.6 1352.8 559.9 1354.1 555.3 1355.4 550.8 1356.8 546.1 1358.3 540.8 1359.9 535.2 1361.6 529.8 1363.4 524.9 1364.9 521.1 1366.4 517.4 1368.1 514.2 1370.0 511.7 1371.6 510.4 1373.2 509.3 1375.0 508.6 1376.7 508.5 1378.7 509.1 1380.8 510.5 1382.8 512.3 1384.6 514.4 1386.6 517.7 1388.2 521.7 1389.7 526.0 1391.2 530.2 1392.6 534.1 1394.0 537.9 1395.3 541.9 1396.5 546.1 1398.0 551.7 1399.4 557.8 1400.7 563.9 1401.8 569.9 1402.6 575.5 1403.3 581.1 1403.8 586.5 1404.4 591.0 1404.7 593.6 1404.9 596.2 1405.1 598.1 1405.7 599.0 1406.7 598.1 1407.9 595.8 1409.3 593.0 1411.0 591.0 1412.7 590.0 1414.7 589.3 1416.8 588.8 1419.0 588.4 1422.1 587.9 1425.4 587.5 1428.8 587.2 1432.2 587.1 1435.5 587.2 1438.8 587.6 1442.1 588.0 1445.4 588.4 1448.8 588.7 1452.2 588.9 1455.5 589.2 1458.6 589.7 1461.5 590.4 1464.5 591.2 1466.9 592.0 1467.9 592.3" stroke="#ff2d2d" stroke-width="3.3" stroke-dasharray="23 9 6 8"/>
</g>
<path d="M199 938.4h13M1468 938.4h-13M199 826.9h13M1468 826.9h-13M199 715.3h13M1468 715.3h-13M199 603.8h13M1468 603.8h-13M199 492.2h13M1468 492.2h-13M199 380.7h13M1468 380.7h-13M199 269.1h13M1468 269.1h-13M199 157.6h13M1468 157.6h-13M410.5 1050v-13M410.5 46v13M622.0 1050v-13M622.0 46v13M833.5 1050v-13M833.5 46v13M1045.0 1050v-13M1045.0 46v13M1256.5 1050v-13M1256.5 46v13" stroke="#8f8f8f" stroke-width="2.6" fill="none"/>
<rect x="199" y="46" width="1269" height="1004" fill="none" stroke="#8f8f8f" stroke-width="2.6"/>
<g font-size="36" fill="#404040">
<text x="178" y="1066.2" text-anchor="end" textLength="80" lengthAdjust="spacingAndGlyphs">1800</text>
<text x="178" y="954.6" text-anchor="end" textLength="80" lengthAdjust="spacingAndGlyphs">1850</text>
<text x="178" y="843.1" text-anchor="end" textLength="80" lengthAdjust="spacingAndGlyphs">1900</text>
<text x="178" y="731.5" text-anchor="end" textLength="80" lengthAdjust="spacingAndGlyphs">1950</text>
<text x="178" y="620.0" text-anchor="end" textLength="80" lengthAdjust="spacingAndGlyphs">2000</text>
<text x="178" y="508.4" text-anchor="end" textLength="80" lengthAdjust="spacingAndGlyphs">2050</text>
<text x="178" y="396.9" text-anchor="end" textLength="80" lengthAdjust="spacingAndGlyphs">2100</text>
<text x="178" y="285.3" text-anchor="end" textLength="80" lengthAdjust="spacingAndGlyphs">2150</text>
<text x="178" y="173.8" text-anchor="end" textLength="80" lengthAdjust="spacingAndGlyphs">2200</text>
<text x="178" y="62.2" text-anchor="end" textLength="80" lengthAdjust="spacingAndGlyphs">2250</text>
<text x="198.0" y="1107" text-anchor="middle" textLength="20.0" lengthAdjust="spacingAndGlyphs">0</text>
<text x="409.5" y="1107" text-anchor="middle" textLength="40.5" lengthAdjust="spacingAndGlyphs">10</text>
<text x="621.0" y="1107" text-anchor="middle" textLength="40.5" lengthAdjust="spacingAndGlyphs">20</text>
<text x="832.5" y="1107" text-anchor="middle" textLength="40.5" lengthAdjust="spacingAndGlyphs">30</text>
<text x="1044.0" y="1107" text-anchor="middle" textLength="40.5" lengthAdjust="spacingAndGlyphs">40</text>
<text x="1255.5" y="1107" text-anchor="middle" textLength="40.5" lengthAdjust="spacingAndGlyphs">50</text>
<text x="1467.0" y="1107" text-anchor="middle" textLength="40.5" lengthAdjust="spacingAndGlyphs">60</text>
</g>
<text x="821.5" y="1166.5" text-anchor="middle" font-size="43" fill="#505050" textLength="140" lengthAdjust="spacingAndGlyphs">Time (s)</text>
<text transform="translate(74.5 567.8) rotate(-90)" x="0" y="0" text-anchor="middle" font-size="42" fill="#505050" textLength="417.5" lengthAdjust="spacingAndGlyphs">Engine speed (rev/min)</text>
<rect x="1044" y="69" width="406" height="155" fill="#fff" stroke="#8f8f8f" stroke-width="2.6"/>
<path d="M1055.7 98.6H1143" stroke="#2e62b8" stroke-width="3.8"/>
<path d="M1055.7 147.1H1143" stroke="#1c1c1c" stroke-width="3.5" stroke-dasharray="29 18"/>
<path d="M1055.7 195.3H1143" stroke="#ff2d2d" stroke-width="3.3" stroke-dasharray="23 9 6.5 8"/>
<g font-size="36" fill="#262626">
<text x="1151.5" y="113.5" textLength="263" lengthAdjust="spacingAndGlyphs">Single neuron PID</text>
<text x="1151.5" y="161.5" textLength="51" lengthAdjust="spacingAndGlyphs">PID</text>
<text x="1151.5" y="209.5" textLength="269" lengthAdjust="spacingAndGlyphs">Without controller</text>
</g>
</g>
</svg></body></html>
